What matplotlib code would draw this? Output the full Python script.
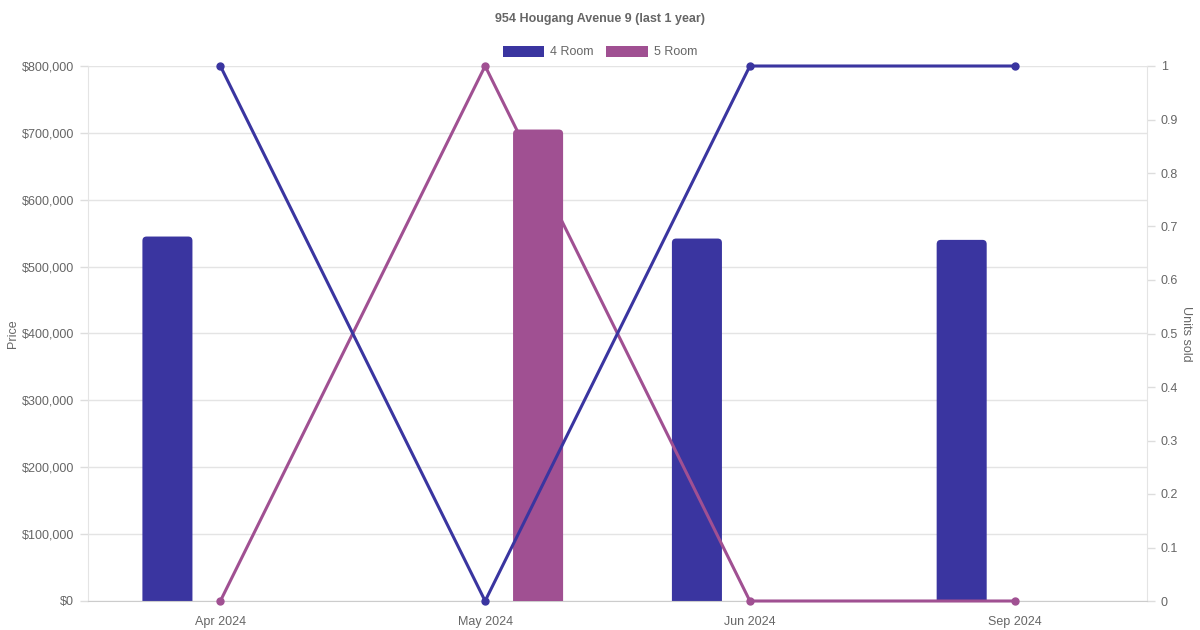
import numpy as np
import matplotlib.pyplot as plt
from matplotlib.patches import FancyBboxPatch, Patch
from matplotlib.ticker import FuncFormatter

plt.rcParams['font.family'] = ['Liberation Sans', 'DejaVu Sans']

months = ['Apr 2024', 'May 2024', 'Jun 2024', 'Sep 2024']
price_4room = [545000, np.nan, 542000, 540000]
price_5room = [np.nan, 705000, np.nan, np.nan]
units_4room = [1, 0, 1, 1]
units_5room = [0, 1, 0, 0]

c4 = '#3a35a0'
c5 = '#a05092'
grey = '#666666'

fig = plt.figure(figsize=(12, 6.3), dpi=100)
ax = fig.add_axes([88 / 1200, 29 / 630, 1059 / 1200, 535 / 630])
ax2 = ax.twinx()

x = np.arange(len(months))
bw = 0.189
off = 0.2

# bars on the left axis, rounded tops
def rounded_bars(xs, vals, color, z):
    bars = ax.bar(xs, vals, width=bw, color=color)
    for b in bars:
        h = b.get_height()
        if not np.isnan(h):
            fb = FancyBboxPatch((b.get_x(), -20000), b.get_width(), h + 20000,
                                boxstyle='round,pad=0,rounding_size=0.016',
                                mutation_aspect=395000, facecolor=color,
                                edgecolor='none', zorder=z)
            ax.add_patch(fb)
        b.remove()

# stacking: 4 Room bars < 5 Room line < 5 Room bars < 4 Room line
rounded_bars(x - off, price_4room, c4, 2)
rounded_bars(x + off, price_5room, c5, 4)
ax.plot(x, np.array(units_5room) * 800000, color=c5, lw=2.2, marker='o', ms=5, zorder=3, clip_on=False)
ax.plot(x, np.array(units_4room) * 800000, color=c4, lw=2.2, marker='o', ms=5, zorder=5, clip_on=False)

ax.set_xlim(-0.5, 3.5)
ax.set_ylim(0, 800000)
ax.set_yticks(np.arange(0, 800001, 100000))
ax.yaxis.set_major_formatter(FuncFormatter(lambda v, p: '${:,.0f}'.format(v)))
ax.set_xticks(x)
ax.set_xticklabels(months)
ax.grid(axis='y', color='#e4e4e4', linewidth=1)
ax.set_axisbelow(True)
ax.tick_params(axis='y', colors='#dddddd', labelcolor=grey, labelsize=9, length=6, width=1, pad=4)
ax.tick_params(axis='x', length=0, labelcolor=grey, labelsize=9, pad=11)
for s in ['left', 'right']:
    ax.spines[s].set_color('#e4e4e4')
ax.spines['top'].set_visible(False)
ax.spines['bottom'].set_color('#cccccc')
ax.set_ylabel('Price', color=grey, fontsize=9, labelpad=2)
ax.set_zorder(1)
ax.patch.set_visible(False)

ax2.set_ylim(0, 1)
ax2.set_yticks(np.arange(0, 1.01, 0.1))
ax2.set_yticklabels(['0'] + ['{:.1f}'.format(v) for v in np.arange(0.1, 0.95, 0.1)] + ['1'])
ax2.tick_params(axis='y', colors='#dddddd', labelcolor=grey, labelsize=9, length=6, width=1, pad=4)
for s in ax2.spines.values():
    s.set_visible(False)
ax2.set_ylabel('Units sold', color=grey, fontsize=9, rotation=270, labelpad=10)

fig.text(0.5, 1 - 19 / 630, '954 Hougang Avenue 9 (last 1 year)', ha='center', va='center',
         fontsize=9, fontweight='bold', color=grey)

handles = [Patch(facecolor=c4, edgecolor='none', label='4 Room'),
           Patch(facecolor=c5, edgecolor='none', label='5 Room')]
fig.legend(handles=handles, loc='center', bbox_to_anchor=(0.5, 1 - 52 / 630), ncol=2,
           frameon=False, fontsize=9, labelcolor=grey, handlelength=3.3, handleheight=1.0,
           handletextpad=0.5, columnspacing=1.0)

fig.savefig('out.png', dpi=100)
